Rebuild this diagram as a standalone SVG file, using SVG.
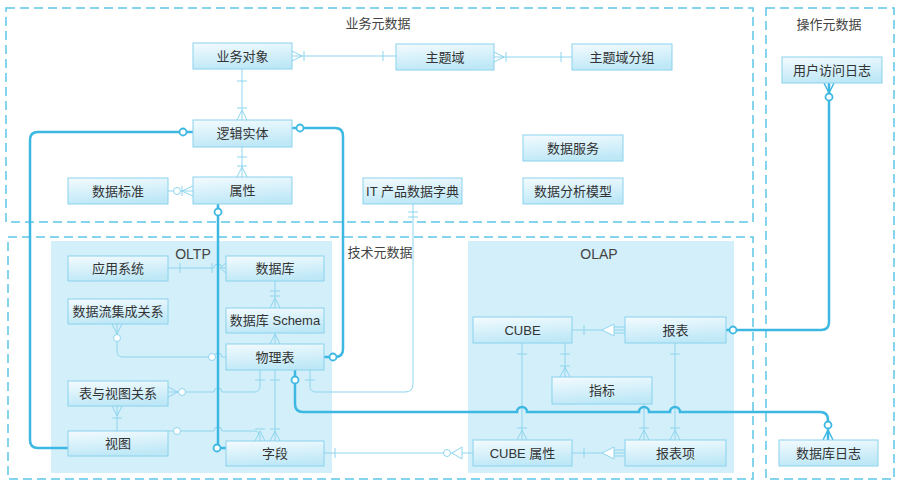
<svg xmlns="http://www.w3.org/2000/svg" width="900" height="487" viewBox="0 0 900 487">
<defs>
<linearGradient id="g" x1="0" y1="0" x2="0.25" y2="1">
<stop offset="0" stop-color="#f4fbfe"/>
<stop offset="1" stop-color="#bfe8f7"/>
</linearGradient>
<style>
.zone{fill:none;stroke:#5cc6e8;stroke-width:1.5;stroke-dasharray:9 5}
.area{fill:#d3eff9}
.n rect{fill:url(#g);stroke:#8ad2ed;stroke-width:1}
text{font-family:"Liberation Sans","Noto Sans CJK SC",sans-serif;font-size:13px;fill:#333;text-anchor:middle;dominant-baseline:central}
.lbl{font-size:13px;fill:#444}
.lbl2{font-size:14px;fill:#444}
.thin{fill:none;stroke:#8dd5ee;stroke-width:1}
.thick{fill:none;stroke:#3cb8e2;stroke-width:2.5}
.oc{fill:#fff;stroke:#8dd5ee;stroke-width:1}
.ok{fill:#fff;stroke:#3cb8e2;stroke-width:1.8}
.tri{fill:#fff;stroke:#8dd5ee;stroke-width:1}
</style>
</defs>
<rect width="900" height="487" fill="#fff"/>
<g id="zones">
<rect class="zone" x="6" y="8" width="747" height="214"/>
<rect class="zone" x="8" y="237" width="745" height="242"/>
<rect class="zone" x="766" y="8" width="128" height="471"/>
<rect class="area" x="51" y="241" width="281" height="232"/>
<rect class="area" x="468" y="241" width="266" height="232"/>
<text class="lbl" x="378" y="23">业务元数据</text>
<text class="lbl" x="380" y="252">技术元数据</text>
<text class="lbl" x="829" y="24">操作元数据</text>
<text class="lbl2" x="193" y="254">OLTP</text>
<text class="lbl2" x="599" y="254">OLAP</text>
</g>
<g id="connectors">
<!-- 业务对象 - 主题域 -->
<path class="thin" d="M292,56 H396 M302,56 L292,51 M302,56 L292,61 M304,51 V61 M383,51 V61"/>
<!-- 主题域 - 主题域分组 -->
<path class="thin" d="M494,57 H572 M504,57 L494,52 M504,57 L494,62 M506,52 V62 M561,52 V62"/>
<!-- 业务对象 - 逻辑实体 -->
<path class="thin" d="M242,69 V120 M237,81 H247 M237,108 H247 M242,110 L237,120 M242,110 L247,120"/>
<!-- 逻辑实体 - 属性 -->
<path class="thin" d="M242,147 V177 M237,157 H247 M237,166 H247 M242,167 L237,177 M242,167 L247,177"/>
<!-- 属性 - 数据标准 -->
<path class="thin" d="M168,191 H193 M182,191 L193,186 M182,191 L193,196 M182,186 V196"/>
<circle class="oc" cx="177" cy="191" r="3.5"/>
<!-- 应用系统 - 数据库 -->
<path class="thin" d="M168,268 H214 a4,4 0 0 1 8,0 H226 M180,263 V273 M212,263 V273 M226,263 L220,268 L226,273"/>
<!-- 数据库 - Schema -->
<path class="thin" d="M275,281 V308 M270,291 H280 M270,296 H280 M275,298 L270,308 M275,298 L280,308"/>
<!-- Schema - 物理表 -->
<path class="thin" d="M275,333 V344 M275,334 L270,344 M275,334 L280,344"/>
<!-- 数据流集成关系 - 物理表 -->
<path class="thin" d="M117,324 V351 Q117,357 123,357 H214 a4,4 0 0 1 8,0 H226 M117,334 L112,324 M117,334 L122,324"/>
<circle class="oc" cx="117" cy="338" r="3.5"/>
<circle class="oc" cx="212" cy="357" r="3.5"/>
<!-- 物理表 - 表与视图关系 -->
<path class="thin" d="M168,392 H214 a4,4 0 0 1 8,0 H254 Q260,392 260,386 V370 M255,380 H265 M178,392 L168,387 M178,392 L168,397"/>
<circle class="oc" cx="182" cy="392" r="3.5"/>
<!-- 物理表 - 字段 -->
<path class="thin" d="M275,370 V441 M270,380 H280 M270,429 H280 M275,431 L270,441 M275,431 L280,441"/>
<!-- 视图 - 字段 -->
<path class="thin" d="M168,431 H214 a4,4 0 0 1 8,0 H254 Q260,431 260,437 V441 M255,429 H265 M260,431 L255,441 M260,431 L265,441"/>
<circle class="oc" cx="177" cy="431" r="3.5"/>
<!-- 物理表 - IT 产品数据字典 -->
<path class="thin" d="M310,370 V386 Q310,392 316,392 H405 Q413,392 413,384 V204 M305,380 H315 M408,212 H418 M408,217 H418"/>
<!-- 表与视图关系 - 视图 -->
<path class="thin" d="M117,406 V431 M117,416 L112,406 M117,416 L122,406 M112,418 H122"/>
<!-- 字段 - CUBE 属性 -->
<path class="thin" d="M324,453 H473 M335,448 V458"/>
<circle class="oc" cx="447" cy="453" r="3.5"/>
<polygon class="tri" points="452,453 462,447 462,459"/>
<!-- 报表 - CUBE -->
<path class="thin" d="M572,330 H602 M584,325 V335 M614,327 H625 M614,330 H625 M614,333 H625"/>
<polygon class="tri" points="602,330 614,324 614,336"/>
<!-- 报表项 - CUBE 属性 -->
<path class="thin" d="M572,453 H602 M584,448 V458 M614,450 H625 M614,453 H625 M614,456 H625"/>
<polygon class="tri" points="602,453 614,447 614,459"/>
<!-- CUBE - CUBE 属性 -->
<path class="thin" d="M522,343 V440 M517,354 H527 M517,428 H527 M522,430 L517,440 M522,430 L527,440"/>
<!-- CUBE - 指标 -->
<path class="thin" d="M565,343 V377 M560,354 H570 M560,366 H570 M565,367 L560,377 M565,367 L570,377"/>
<!-- 指标 - 报表项 -->
<path class="thin" d="M644,404 V440 M639,428 H649 M644,430 L639,440 M644,430 L649,440"/>
<!-- 报表 - 报表项 -->
<path class="thin" d="M675,343 V440 M670,354 H680 M670,428 H680 M675,430 L670,440 M675,430 L680,440"/>
<!-- thick: 属性 - 字段 -->
<path class="thick" d="M218,204 V448 H226"/>
<circle class="ok" cx="218" cy="212" r="3.5"/>
<circle class="ok" cx="217" cy="448" r="3.5"/>
<!-- thick: 逻辑实体 - 视图 -->
<path class="thick" d="M193,132 H38 Q30,132 30,140 V440 Q30,448 38,448 H68"/>
<circle class="ok" cx="183" cy="132" r="3.5"/>
<!-- thick: 逻辑实体 - 物理表 -->
<path class="thick" d="M292,128 H335 Q343,128 343,136 V349 Q343,357 335,357 H324"/>
<circle class="ok" cx="300" cy="128" r="3.5"/>
<circle class="ok" cx="333" cy="357" r="3.5"/>
<!-- thick: 物理表 - 数据库日志 -->
<path class="thick" d="M295,370 V404 Q295,412 303,412 H517 a5,5 0 0 1 10,0 H639 a5,5 0 0 1 10,0 H670 a5,5 0 0 1 10,0 H820 Q828,412 828,420 V440"/>
<path class="thick" style="stroke-width:1.5" d="M828,430 L823,440 M828,430 L833,440"/>
<circle class="ok" cx="295" cy="380" r="3.5"/>
<circle class="ok" cx="828" cy="425" r="3.5"/>
<!-- thick: 报表 - 用户访问日志 -->
<path class="thick" d="M726,330 H821 Q829,330 829,322 V83"/>
<path class="thick" style="stroke-width:1.5" d="M829,93 L824,83 M829,93 L834,83"/>
<circle class="ok" cx="733" cy="330" r="3.5"/>
<circle class="ok" cx="829" cy="97" r="3.5"/>
</g>
<g id="n-yewuduixiang" class="n"><rect x="193" y="43" width="99" height="26"/><text x="242.5" y="56">业务对象</text></g>
<g id="n-zhutiyu" class="n"><rect x="396" y="44" width="98" height="26"/><text x="445" y="57">主题域</text></g>
<g id="n-zhutiyufenzu" class="n"><rect x="572" y="44" width="100" height="26"/><text x="622" y="57">主题域分组</text></g>
<g id="n-luojishiti" class="n"><rect x="193" y="120" width="99" height="27"/><text x="242.5" y="133.5">逻辑实体</text></g>
<g id="n-shuxing" class="n"><rect x="193" y="177" width="99" height="27"/><text x="242.5" y="190.5">属性</text></g>
<g id="n-shujubiaozhun" class="n"><rect x="68" y="178" width="100" height="26"/><text x="118" y="191">数据标准</text></g>
<g id="n-itdict" class="n"><rect x="363" y="178" width="99" height="26"/><text x="412.5" y="191">IT 产品数据字典</text></g>
<g id="n-shujufuwu" class="n"><rect x="523" y="135" width="100" height="26"/><text x="573" y="148">数据服务</text></g>
<g id="n-fenximoxing" class="n"><rect x="523" y="178" width="100" height="26"/><text x="573" y="191">数据分析模型</text></g>
<g id="n-yonghufangwen" class="n"><rect x="782" y="57" width="100" height="26"/><text x="832" y="70">用户访问日志</text></g>
<g id="n-yingyongxitong" class="n"><rect x="68" y="256" width="100" height="25"/><text x="118" y="268.5">应用系统</text></g>
<g id="n-shujuliu" class="n"><rect x="68" y="299" width="100" height="25"/><text x="118" y="311.5">数据流集成关系</text></g>
<g id="n-biaoyushitu" class="n"><rect x="68" y="381" width="100" height="25"/><text x="118" y="393.5">表与视图关系</text></g>
<g id="n-shitu" class="n"><rect x="68" y="431" width="100" height="25"/><text x="118" y="443.5">视图</text></g>
<g id="n-shujuku" class="n"><rect x="226" y="256" width="98" height="25"/><text x="275" y="268.5">数据库</text></g>
<g id="n-schema" class="n"><rect x="226" y="308" width="98" height="25"/><text x="275" y="320.5">数据库 Schema</text></g>
<g id="n-wulibiao" class="n"><rect x="226" y="344" width="98" height="26"/><text x="275" y="357">物理表</text></g>
<g id="n-ziduan" class="n"><rect x="226" y="441" width="98" height="25"/><text x="275" y="453.5">字段</text></g>
<g id="n-cube" class="n"><rect x="473" y="317" width="99" height="26"/><text x="522.5" y="330">CUBE</text></g>
<g id="n-baobiao" class="n"><rect x="625" y="317" width="101" height="26"/><text x="675.5" y="330">报表</text></g>
<g id="n-zhibiao" class="n"><rect x="552" y="377" width="100" height="27"/><text x="602" y="390.5">指标</text></g>
<g id="n-cubeshuxing" class="n"><rect x="473" y="440" width="99" height="26"/><text x="522.5" y="453">CUBE 属性</text></g>
<g id="n-baobiaoxiang" class="n"><rect x="625" y="440" width="101" height="26"/><text x="675.5" y="453">报表项</text></g>
<g id="n-shujukurizhi" class="n"><rect x="779" y="440" width="99" height="26"/><text x="828.5" y="453">数据库日志</text></g>
</svg>
